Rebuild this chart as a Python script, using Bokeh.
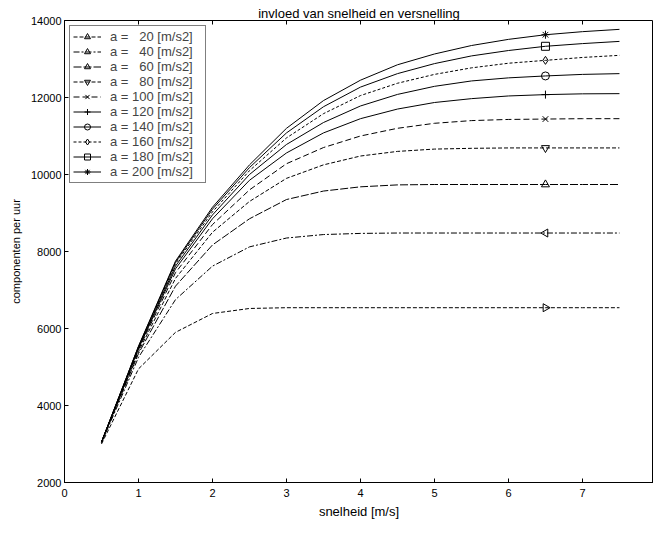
import math
from bokeh.plotting import figure
from bokeh.models import (LinearAxis, Legend, LegendItem, Range1d,
                          FixedTicker, ColumnDataSource, CustomJSTickFormatter)
from bokeh.embed import file_html
from bokeh.resources import INLINE

# ---------------- data ----------------
speed = [0.5, 1.0, 1.5, 2.0, 2.5, 3.0, 3.5, 4.0, 4.5, 5.0, 5.5, 6.0, 6.5, 7.0, 7.5]

a20  = [3000, 4950, 5900, 6390, 6520, 6540, 6540, 6540, 6540, 6540, 6540, 6540, 6540, 6540, 6540]
a40  = [3030, 5250, 6750, 7620, 8120, 8350, 8440, 8470, 8480, 8480, 8480, 8480, 8480, 8480, 8480]
a60  = [3050, 5350, 7100, 8170, 8850, 9350, 9570, 9680, 9730, 9740, 9740, 9740, 9740, 9740, 9740]
a80  = [3050, 5400, 7300, 8500, 9300, 9900, 10250, 10480, 10600, 10660, 10680, 10690, 10690, 10690, 10690]
a100 = [3050, 5450, 7450, 8700, 9600, 10280, 10700, 11000, 11200, 11330, 11400, 11430, 11440, 11450, 11450]
a120 = [3050, 5480, 7550, 8850, 9850, 10560, 11080, 11450, 11700, 11870, 11970, 12040, 12075, 12095, 12100]
a140 = [3050, 5500, 7620, 8950, 10000, 10780, 11350, 11780, 12080, 12290, 12430, 12510, 12560, 12600, 12620]
a160 = [3050, 5520, 7680, 9030, 10100, 10950, 11580, 12050, 12370, 12600, 12770, 12890, 12965, 13040, 13095]
a180 = [3050, 5530, 7720, 9100, 10180, 11080, 11760, 12270, 12620, 12880, 13080, 13220, 13330, 13400, 13457]
a200 = [3050, 5540, 7750, 9150, 10250, 11200, 11920, 12450, 12850, 13130, 13350, 13510, 13630, 13710, 13770]

series = [a20, a40, a60, a80, a100, a120, a140, a160, a180, a200]
labels = ["a = \u00a0\u00a020 [m/s2]", "a = \u00a0\u00a040 [m/s2]", "a = \u00a0\u00a060 [m/s2]",
          "a = \u00a0\u00a080 [m/s2]", "a = 100 [m/s2]", "a = 120 [m/s2]", "a = 140 [m/s2]",
          "a = 160 [m/s2]", "a = 180 [m/s2]", "a = 200 [m/s2]"]
marker_index = 12  # markers drawn at speed 6.5

x_ticks = [0, 1, 2, 3, 4, 5, 6, 7]
y_ticks = [2000, 4000, 6000, 8000, 10000, 12000, 14000]

title_text = "invloed van snelheid en versnelling"
x_title = "snelheid [m/s]"
y_title = "componenten per uur"

# ---------------- styles ----------------
markers = ["triangle", "triangle", "triangle", "inverted_triangle", "x",
           "cross", "circle", "diamond", "square", "asterisk"]
angles = [-math.pi / 2, math.pi / 2, 0, 0, 0, 0, 0, 0, 0, 0]
dashes = ["4 2", "6 2 2 2", "8 2", "4 2", "6 3", "solid", "solid", "3 2", "solid", "solid"]

FONT = "Liberation Sans"

p = figure(width=653, height=524, output_backend="svg", toolbar_location=None,
           x_range=Range1d(0, 7.96), y_range=Range1d(2000, 14000),
           min_border_left=64, min_border_right=0, min_border_top=20,
           min_border_bottom=42)

p.title.text = title_text
p.title.align = "center"
p.title.text_font = FONT
p.title.text_font_size = "13px"
p.title.text_font_style = "normal"
p.title.text_color = "black"
p.title.standoff = 0
p.title.offset = 4

p.xgrid.visible = False
p.ygrid.visible = False
p.outline_line_color = "black"
p.background_fill_color = "white"
p.border_fill_color = "white"

for ax in (p.xaxis[0], p.yaxis[0]):
    ax.major_tick_in = 4
    ax.major_tick_out = 0
    ax.minor_tick_line_color = None
    ax.axis_line_color = "black"
    ax.major_label_text_font = FONT
    ax.major_label_text_font_size = "11px"
    ax.major_label_text_color = "black"
    ax.axis_label_text_font = FONT
    ax.axis_label_text_font_style = "normal"
    ax.axis_label_text_color = "black"

p.xaxis.ticker = FixedTicker(ticks=x_ticks)
p.yaxis.ticker = FixedTicker(ticks=y_ticks)
p.xaxis.axis_label = x_title
p.yaxis.axis_label = y_title
p.xaxis.axis_label_text_font_size = "13px"
p.yaxis.axis_label_text_font_size = "11px"
p.xaxis.major_label_standoff = 6
p.xaxis.axis_label_standoff = 4
p.yaxis.major_label_standoff = 3
p.yaxis.axis_label_standoff = 6

top = LinearAxis(ticker=FixedTicker(ticks=x_ticks), major_tick_in=4, major_tick_out=0,
                 minor_tick_line_color=None,
                 formatter=CustomJSTickFormatter(code="return ''"),
                 major_label_standoff=0, axis_line_color=None)
p.add_layout(top, "above")

items = []
for i, (vals, lab) in enumerate(zip(series, labels)):
    src = ColumnDataSource(dict(x=speed, y=vals))
    ln = p.line("x", "y", source=src, line_color="black", line_width=1,
                line_dash=dashes[i])
    msrc = ColumnDataSource(dict(x=[speed[marker_index]], y=[vals[marker_index]]))
    mk = p.scatter("x", "y", source=msrc, marker=markers[i], size=8, angle=angles[i],
                   line_color="black", line_width=1, fill_alpha=0)
    items.append(LegendItem(label=lab, renderers=[ln, mk]))

legend = Legend(items=items, location="top_left", margin=5, padding=3, spacing=0,
                label_height=15, glyph_height=15, glyph_width=28, label_standoff=9,
                label_width=92,
                label_text_font=FONT, label_text_font_size="13px",
                border_line_color="black", border_line_width=1,
                background_fill_color="white", background_fill_alpha=1)
p.add_layout(legend)

open("out.html", "w").write(file_html(p, INLINE))
